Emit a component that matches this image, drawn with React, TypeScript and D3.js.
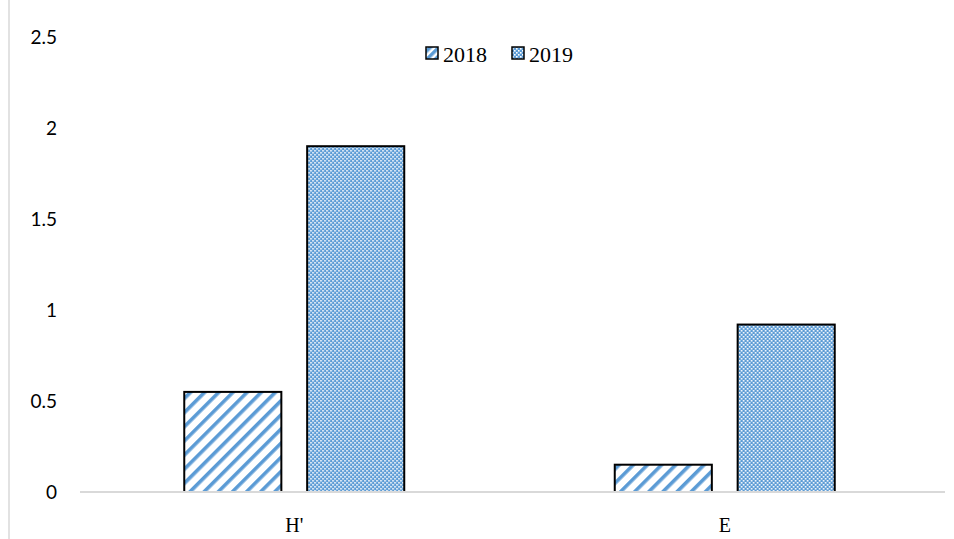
import React from "react";
import * as d3 from "d3";

const categories = ["H'", "E"];
const seriesNames = ["2018", "2019"];
const values2018 = [0.55, 0.15];
const values2019 = [1.9, 0.92];
const yTicks = [0, 0.5, 1, 1.5, 2, 2.5];

const W = 954;
const H = 539;
const BLUE = "#5b9bd5";

export default function App() {
  const x0 = d3
    .scaleBand<string>()
    .domain(categories)
    .range([79, 940])
    .paddingInner(0.489)
    .paddingOuter(0.2445);
  const x1 = d3
    .scaleBand<string>()
    .domain(seriesNames)
    .range([0, x0.bandwidth()])
    .paddingInner(0.21)
    .paddingOuter(0);
  const y = d3.scaleLinear().domain([0, 2.5]).range([492, 37]);

  const seriesValues = [values2018, values2019];
  const fills = ["url(#stripe)", "url(#checker)"];

  return (
    <svg
      width={W}
      height={H}
      style={{ position: "absolute", left: 0, top: 0, background: "#fff" }}
    >
      <defs>
        <pattern
          id="stripe"
          patternUnits="userSpaceOnUse"
          width={10}
          height={10}
          patternTransform="rotate(45)"
        >
          <rect width={10} height={10} fill="#fff" />
          <rect x={0} y={0} width={3.6} height={10} fill={BLUE} />
        </pattern>
        <pattern id="checker" patternUnits="userSpaceOnUse" width={4} height={4}>
          <rect width={4} height={4} fill={BLUE} />
          <rect x={0} y={0} width={1.6} height={1.6} fill="#fff" />
          <rect x={2} y={2} width={1.6} height={1.6} fill="#fff" />
        </pattern>
        <pattern
          id="stripeLeg"
          patternUnits="userSpaceOnUse"
          width={6}
          height={6}
          patternTransform="rotate(45)"
        >
          <rect width={6} height={6} fill="#fff" />
          <rect x={0} y={0} width={3.5} height={6} fill={BLUE} />
        </pattern>
      </defs>

      <line x1={9} x2={9} y1={0} y2={H} stroke="#d9d9d9" strokeWidth={1.5} />

      {yTicks.map((t) => (
        <text
          key={t}
          x={57}
          y={y(t)}
          dy="0.35em"
          textAnchor="end"
          fontFamily="Lato, sans-serif"
          fontSize={19}
          fill="#000"
        >
          {String(t)}
        </text>
      ))}

      {categories.map((c, ci) => (
        <g key={c} transform={`translate(${x0(c)},0)`}>
          {seriesNames.map((s, si) => {
            const v = seriesValues[si][ci];
            return (
              <rect
                key={s}
                x={x1(s)}
                y={y(v)}
                width={x1.bandwidth()}
                height={y(0) - y(v)}
                fill={fills[si]}
                stroke="#000"
                strokeWidth={2}
              />
            );
          })}
        </g>
      ))}

      <line x1={80} x2={945} y1={y(0)} y2={y(0)} stroke="#d9d9d9" strokeWidth={2} />

      {categories.map((c) => (
        <text
          key={c}
          x={(x0(c) as number) + x0.bandwidth() / 2}
          y={532}
          textAnchor="middle"
          fontFamily="'Liberation Serif', serif"
          fontSize={20}
          fill="#000"
        >
          {c}
        </text>
      ))}

      <g>
        <rect x={426} y={47} width={12} height={12} fill="url(#stripeLeg)" stroke="#000" strokeWidth={1.5} />
        <text x={443} y={62} fontFamily="'Liberation Serif', serif" fontSize={22} fill="#000">
          {seriesNames[0]}
        </text>
        <rect x={512} y={47} width={12} height={12} fill="url(#checker)" stroke="#000" strokeWidth={1.5} />
        <text x={529} y={62} fontFamily="'Liberation Serif', serif" fontSize={22} fill="#000">
          {seriesNames[1]}
        </text>
      </g>
    </svg>
  );
}
